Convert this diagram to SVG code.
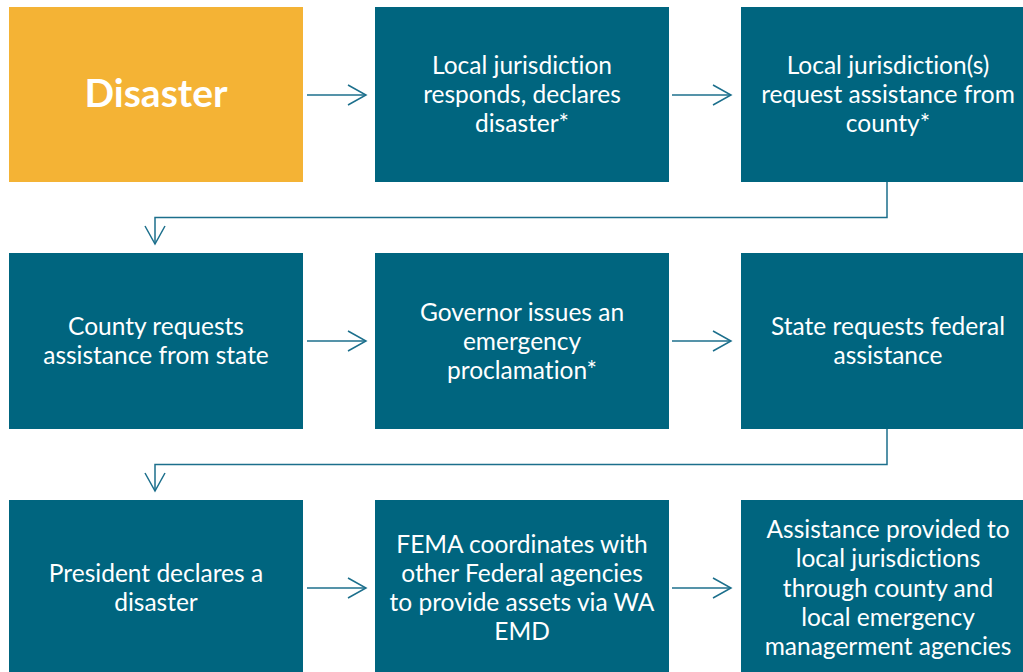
<svg xmlns="http://www.w3.org/2000/svg" width="1023" height="672" viewBox="0 0 1023 672">
  <defs>
    <style>
      .box { fill: #00657F; }
      .gold { fill: #F4B335; }
      .t { font-family: Lato, "Liberation Sans", sans-serif; font-size: 24.5px; fill: #FFFFFF; text-anchor: middle; font-variant-ligatures: none; font-feature-settings: "liga" 0, "clig" 0, "dlig" 0, "calt" 0; }
      .big { font-family: Lato, "Liberation Sans", sans-serif; font-size: 39px; font-weight: bold; fill: #FFFFFF; text-anchor: middle; }
      .c { fill: none; stroke: #1C6F8C; stroke-width: 1.5; }
    </style>
    <marker id="ah" markerWidth="22" markerHeight="24" refX="20" refY="12" orient="auto" markerUnits="userSpaceOnUse">
      <path d="M2,2 L20,12 L2,22" fill="none" stroke="#1C6F8C" stroke-width="1.5"/>
    </marker>
  </defs>
  <rect width="1023" height="672" fill="#FFFFFF"/>

  <g id="connectors">
    <line class="c" x1="307" y1="95" x2="366" y2="95" marker-end="url(#ah)"/>
    <line class="c" x1="672" y1="95" x2="731" y2="95" marker-end="url(#ah)"/>
    <polyline class="c" points="887,182 887,217.5 155,217.5 155,244" marker-end="url(#ah)"/>
    <line class="c" x1="307" y1="341" x2="366" y2="341" marker-end="url(#ah)"/>
    <line class="c" x1="672" y1="341" x2="731" y2="341" marker-end="url(#ah)"/>
    <polyline class="c" points="887,429 887,464.5 155,464.5 155,491" marker-end="url(#ah)"/>
    <line class="c" x1="307" y1="588" x2="366" y2="588" marker-end="url(#ah)"/>
    <line class="c" x1="672" y1="588" x2="731" y2="588" marker-end="url(#ah)"/>
  </g>

  <g id="n-disaster">
    <rect class="gold" x="9" y="7" width="294" height="175"/>
    <text class="big" x="156" y="107">Disaster</text>
  </g>
  <g id="n-local-responds">
    <rect class="box" x="375" y="7" width="294" height="175"/>
    <text class="t" x="522" y="74">Local jurisdiction</text>
    <text class="t" x="522" y="103">responds, declares</text>
    <text class="t" x="522" y="132">disaster*</text>
  </g>
  <g id="n-local-request">
    <rect class="box" x="741" y="7" width="294" height="175"/>
    <text class="t" x="888" y="74">Local jurisdiction(s)</text>
    <text class="t" x="888" y="103">request assistance from</text>
    <text class="t" x="888" y="132">county*</text>
  </g>

  <g id="n-county">
    <rect class="box" x="9" y="253" width="294" height="176"/>
    <text class="t" x="156" y="335">County requests</text>
    <text class="t" x="156" y="364">assistance from state</text>
  </g>
  <g id="n-governor">
    <rect class="box" x="375" y="253" width="294" height="176"/>
    <text class="t" x="522" y="321">Governor issues an</text>
    <text class="t" x="522" y="350">emergency</text>
    <text class="t" x="522" y="379">proclamation*</text>
  </g>
  <g id="n-state">
    <rect class="box" x="741" y="253" width="294" height="176"/>
    <text class="t" x="888" y="335">State requests federal</text>
    <text class="t" x="888" y="364">assistance</text>
  </g>

  <g id="n-president">
    <rect class="box" x="9" y="500" width="294" height="176"/>
    <text class="t" x="156" y="582">President declares a</text>
    <text class="t" x="156" y="611">disaster</text>
  </g>
  <g id="n-fema">
    <rect class="box" x="375" y="500" width="294" height="176"/>
    <text class="t" x="522" y="553">FEMA coordinates with</text>
    <text class="t" x="522" y="582">other Federal agencies</text>
    <text class="t" x="522" y="611">to provide assets via WA</text>
    <text class="t" x="522" y="640">EMD</text>
  </g>
  <g id="n-assistance">
    <rect class="box" x="741" y="500" width="294" height="176"/>
    <text class="t" x="888" y="538">Assistance provided to</text>
    <text class="t" x="888" y="567">local jurisdictions</text>
    <text class="t" x="888" y="597">through county and</text>
    <text class="t" x="888" y="626">local emergency</text>
    <text class="t" x="888" y="655">managerment agencies</text>
  </g>
</svg>
